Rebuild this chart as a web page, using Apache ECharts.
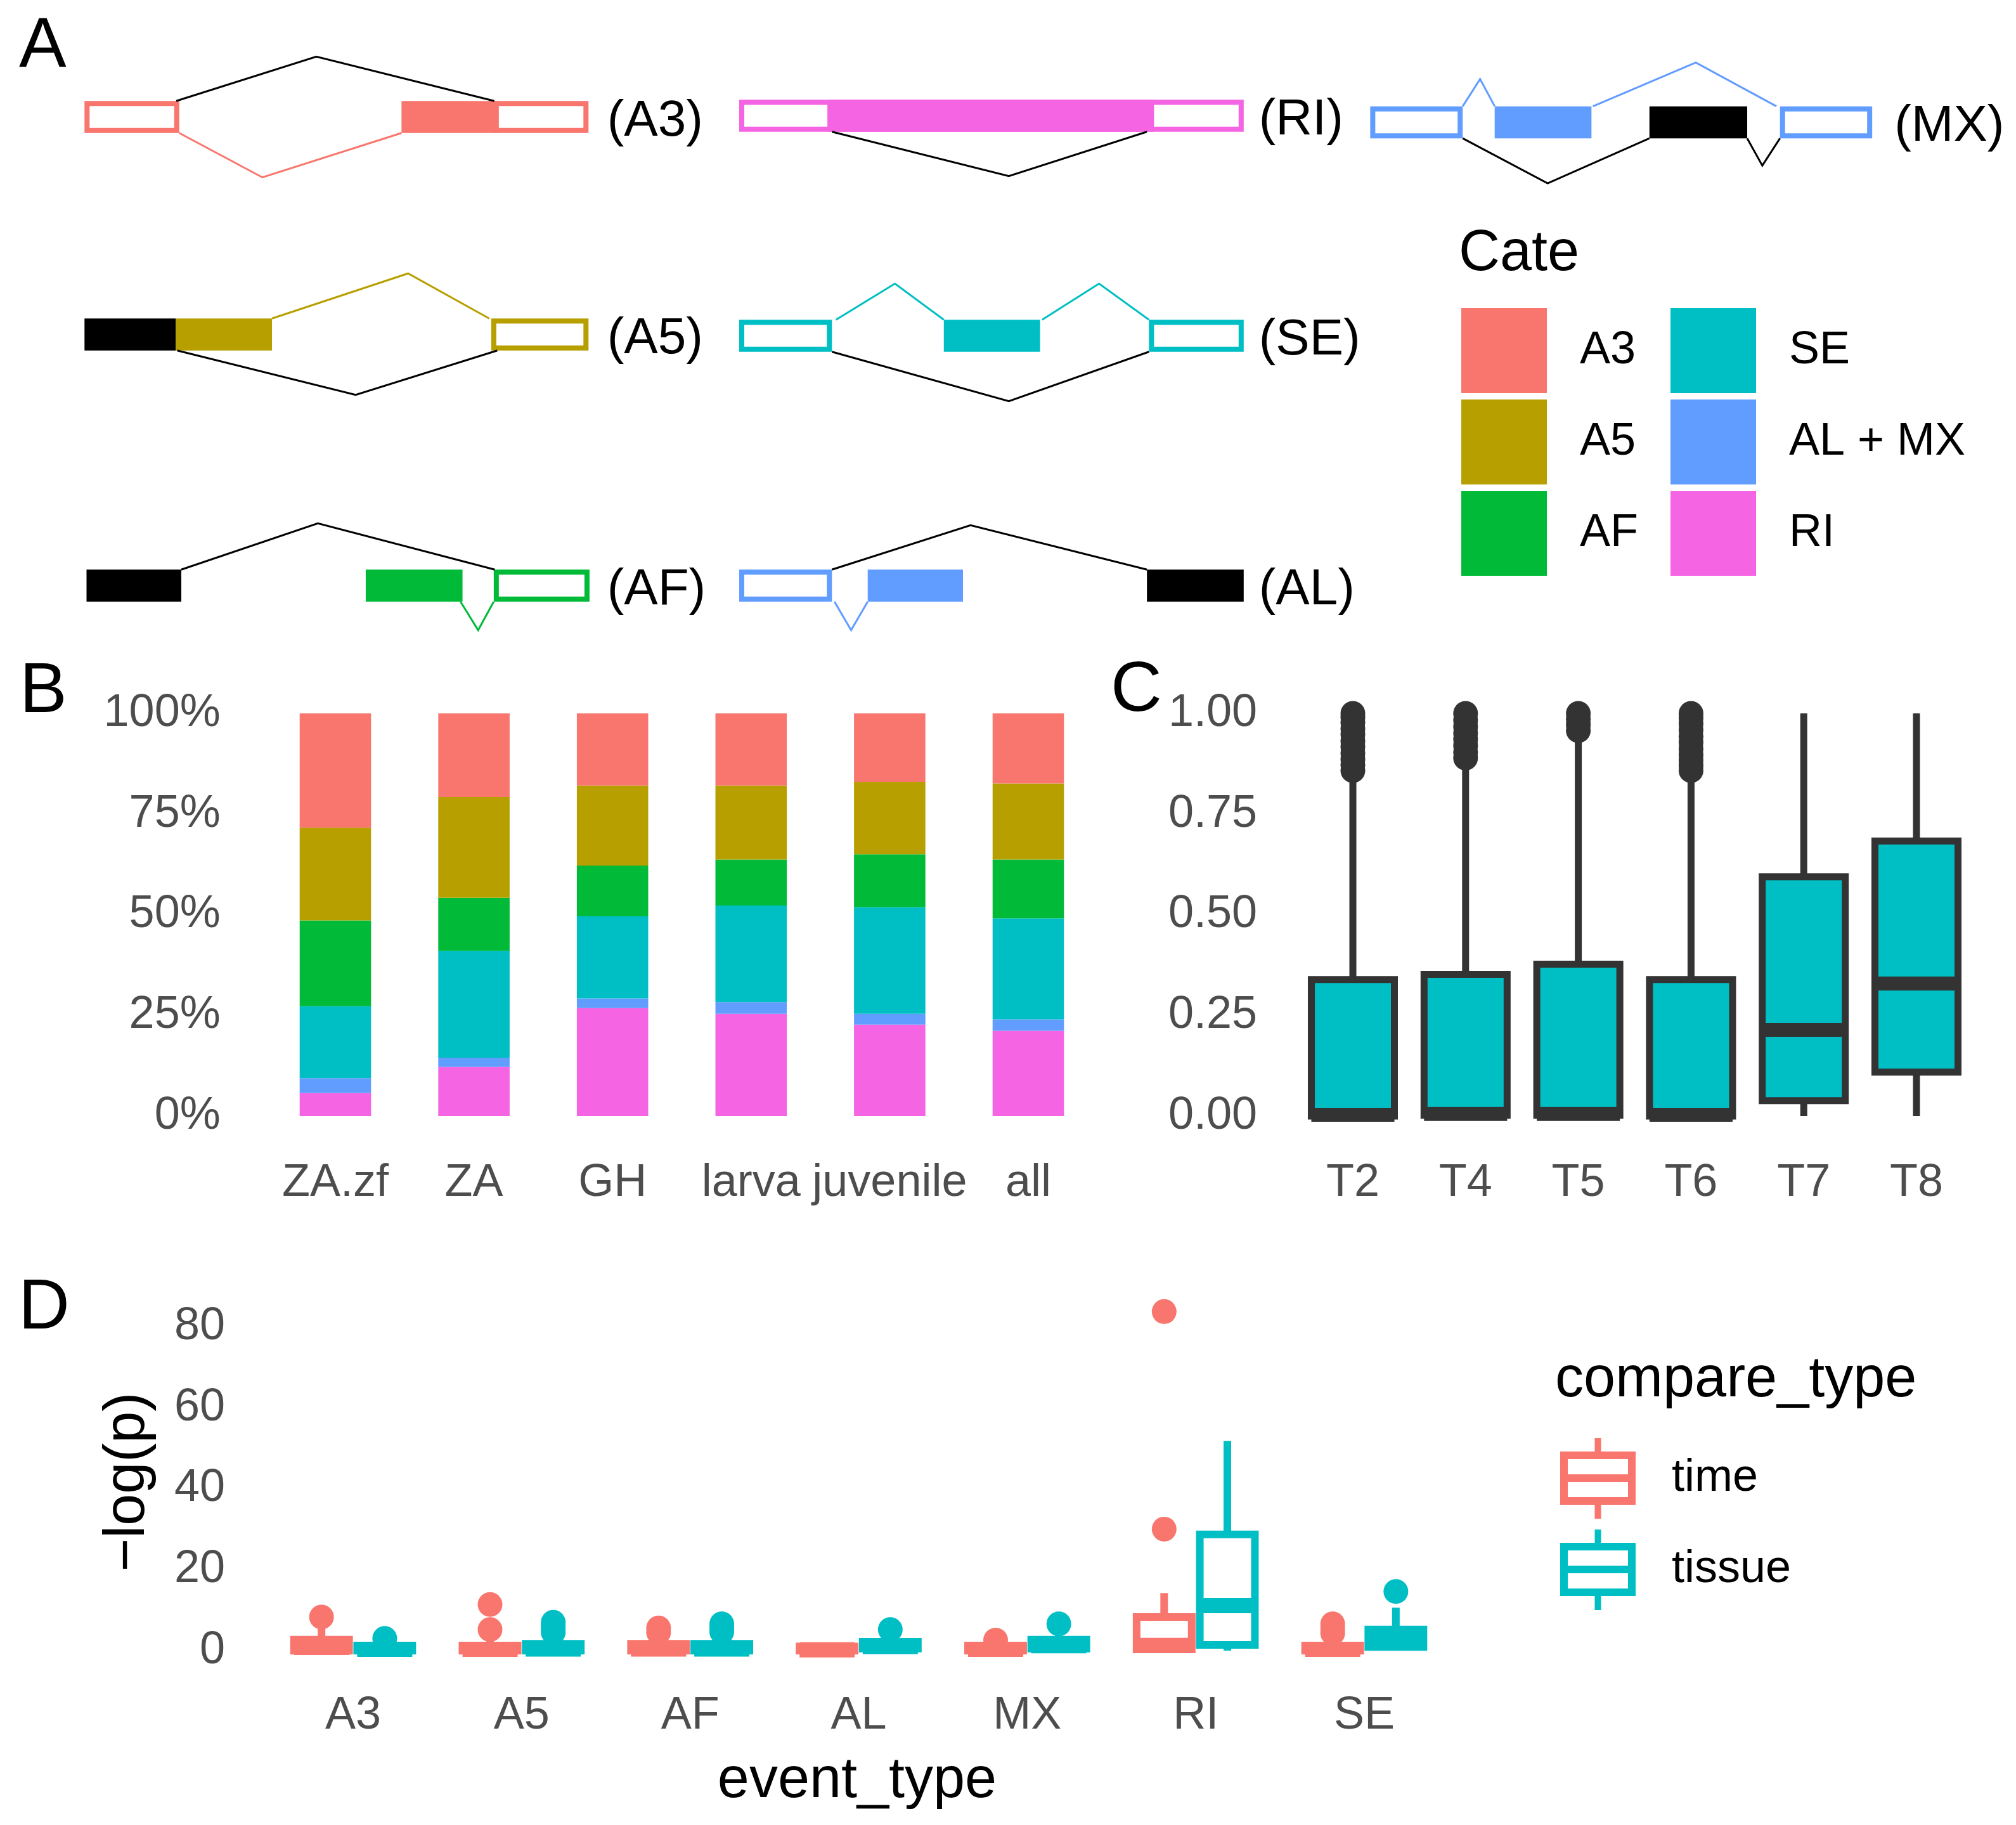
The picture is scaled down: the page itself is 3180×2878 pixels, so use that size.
<!DOCTYPE html>
<html>
<head>
<meta charset="utf-8">
<script src="https://cdn.jsdelivr.net/npm/echarts@6/dist/echarts.min.js"></script>
<style>html,body{margin:0;padding:0;background:#fff}#c{width:3180px;height:2878px}</style>
</head>
<body>
<div id="c"></div>
<script>
const FONT = '"Liberation Sans", Arial, Helvetica, sans-serif';
const GREY = '#4D4D4D';

// ---------- Panel B data ----------
const cateNames  = ['A3', 'A5', 'AF', 'SE', 'AL + MX', 'RI'];
const cateColors = ['#F8766D', '#B79F00', '#00BA38', '#00BFC4', '#619CFF', '#F564E3'];
const stageCats  = ['ZA.zf', 'ZA', 'GH', 'larva', 'juvenile', 'all'];
const propRI   = [0.057, 0.122, 0.268, 0.254, 0.227, 0.212];
const propALMX = [0.037, 0.023, 0.024, 0.029, 0.027, 0.028];
const propSE   = [0.179, 0.265, 0.204, 0.240, 0.265, 0.251];
const propAF   = [0.213, 0.132, 0.126, 0.114, 0.131, 0.146];
const propA5   = [0.230, 0.250, 0.199, 0.184, 0.180, 0.189];
const propA3   = [0.284, 0.208, 0.179, 0.179, 0.170, 0.174];
const pctTicks = [0, 0.25, 0.5, 0.75, 1];

// ---------- Panel C data ----------
const tCats = ['T2', 'T4', 'T5', 'T6', 'T7', 'T8'];
// [lower whisker, Q1, median, Q3, upper whisker]
const tBox = [
  [0, 0,     0.003, 0.339, 0.84],
  [0, 0.002, 0.005, 0.352, 0.87],
  [0, 0.002, 0.005, 0.377, 0.94],
  [0, 0,     0.003, 0.339, 0.84],
  [0, 0.038, 0.214, 0.594, 1.00],
  [0, 0.109, 0.329, 0.683, 1.00]
];
const tOutT2 = [0.858, 0.872, 0.886, 0.901, 0.917, 0.931, 0.948, 0.962, 0.977, 0.99, 1.0];
const tOutT4 = [0.889, 0.903, 0.92, 0.936, 0.951, 0.967, 0.983, 1.0];
const tOutT5 = [0.957, 0.972, 0.986, 1.0];
const tOutT6 = [0.858, 0.87, 0.884, 0.897, 0.912, 0.928, 0.943, 0.959, 0.974, 0.988, 1.0];
const tOutT7 = [];
const tOutT8 = [];

// ---------- Panel D data ----------
const eventCats = ['A3', 'A5', 'AF', 'AL', 'MX', 'RI', 'SE'];
const compareTypes = ['time', 'tissue'];
const compareColors = ['#F8766D', '#00BFC4'];
// [lower whisker, Q1, median, Q3, upper whisker]
const timeBox = [
  [0, 0,   0.8, 2.7,  6.5],
  [0, 0,   0.3, 1.25, 3.0],
  [0, 0,   0.4, 1.7,  3.5],
  [0, 0,   0.2, 1.0,  1.5],
  [0, 0,   0.3, 1.25, 2.0],
  [0, 0.3, 1.3, 8.3,  14.2],
  [0, 0,   0.3, 1.25, 3.0]
];
const tissueBox = [
  [0, 0,   0.3,  1.25, 2.0],
  [0, 0,   0.4,  1.7,  3.8],
  [0, 0,   0.4,  1.7,  3.8],
  [0, 0.5, 1.0,  2.2,  4.0],
  [0, 0.5, 1.2,  2.7,  5.0],
  [0, 1.4, 11.1, 28.7, 51.8],
  [0, 0.9, 3.0,  5.2,  10.6]
];
// outliers: [event index, value]
const timeOut = [[0, 8.3], [1, 5.2], [1, 11.4], [2, 4.5], [2, 5.6], [4, 2.6], [5, 30.0], [5, 83.7], [6, 4.3], [6, 5.4], [6, 6.6]];
const tissueOut = [[0, 3.0], [1, 4.5], [1, 5.3], [1, 6.1], [1, 7.0], [2, 4.6], [2, 5.6], [2, 6.6], [3, 5.2], [4, 6.6], [6, 14.6]];
const logTicks = [0, 20, 40, 60, 80];

// ---------- Panel A schematic (local units: 0-100 across a diagram, y in 10px units) ----------
const colStarts = [0, 129.9, 255.1];
// exon: [x1, x2, filled(1)/outline(0), colour index (6 = black)]
// intron: [x1, xPeak, x2, dir(-1 up, 1 down), height, colour index]
const diagrams = [
  {label: '(A3)', col: 0, yc: 18.45, lx: 103.7,
   exons: [[0, 18.8, 0, 0], [81.2, 100, 0, 0], [62.9, 82.1, 1, 0]],
   introns: [[18.2, 46.0, 81.3, -1, 7.0, 6], [18.8, 35.3, 62.9, 1, 7.0, 0]]},
  {label: '(A5)', col: 0, yc: 52.75, lx: 103.7,
   exons: [[0, 18.1, 1, 6], [18.1, 37.2, 1, 1], [80.7, 100, 0, 1]],
   introns: [[37.2, 64.2, 80.3, -1, 7.1, 1], [18.4, 53.8, 81.9, 1, 7.0, 6]]},
  {label: '(AF)', col: 0, yc: 92.35, lx: 103.7,
   exons: [[0.4, 19.2, 1, 6], [55.8, 75.0, 1, 2], [81.2, 100.2, 0, 2]],
   introns: [[19.2, 46.3, 81.4, -1, 7.3, 6], [74.6, 78.1, 81.2, 1, 4.5, 2]]},
  {label: '(RI)', col: 1, yc: 18.25, lx: 103.1,
   exons: [[0, 100.1, 0, 5], [17.5, 82.3, 1, 5]],
   introns: [[18.4, 53.5, 80.9, 1, 7.0, 6]]},
  {label: '(SE)', col: 1, yc: 52.95, lx: 103.1,
   exons: [[0, 18.4, 0, 3], [40.6, 59.7, 1, 3], [81.3, 100.1, 0, 3]],
   introns: [[19.2, 30.9, 40.6, -1, 5.7, 3], [60.1, 71.4, 81.3, -1, 5.7, 3], [18.4, 53.5, 81.3, 1, 7.8, 6]]},
  {label: '(AL)', col: 1, yc: 92.35, lx: 103.1,
   exons: [[0, 18.4, 0, 4], [25.5, 44.4, 1, 4], [80.9, 100.1, 1, 6]],
   introns: [[18.4, 45.9, 80.9, -1, 7.0, 6], [18.9, 22.2, 25.5, 1, 4.5, 4]]},
  {label: '(MX)', col: 2, yc: 19.29, lx: 104.0,
   exons: [[0, 18.35, 0, 4], [24.7, 43.9, 1, 4], [55.4, 74.8, 1, 6], [81.3, 99.6, 0, 4]],
   introns: [[18.35, 21.8, 24.7, -1, 4.3, 4], [44.2, 64.6, 80.6, -1, 6.9, 4], [18.35, 35.2, 55.4, 1, 7.1, 6], [74.8, 77.8, 81.3, 1, 4.3, 6]]}
];
const exonHalf = 2.525;
const schemeColours = cateColors.concat(['#000000']);

const exonData = [], intronData = [], aLabelData = [], aLabelText = [];
diagrams.forEach(d => {
  const x0 = colStarts[d.col];
  d.exons.forEach(e => exonData.push([x0 + e[0], d.yc, x0 + e[1], e[2], e[3]]));
  d.introns.forEach(t => intronData.push([x0 + t[0], d.yc, x0 + t[1], x0 + t[2], t[3], t[4], t[5]]));
  aLabelData.push([x0 + d.lx, d.yc + 0.7]);
  aLabelText.push(d.label);
});

// ---------- helpers ----------
function boxRender(offsetFrac, widthFrac, fill, stroke, lw, medLw) {
  return function (params, api) {
    const ci = api.value(0);
    const c0 = api.coord([ci, 0]);
    const band = api.coord([1, 0])[0] - api.coord([0, 0])[0];
    const cx = c0[0] + offsetFrac * band;
    const w = widthFrac * band;
    const y = k => api.coord([ci, api.value(k)])[1];
    const yMin = y(1), yQ1 = y(2), yMed = y(3), yQ3 = y(4), yMax = y(5);
    const ls = {stroke: stroke, lineWidth: lw, lineCap: 'butt'};
    return {type: 'group', children: [
      {type: 'line', shape: {x1: cx, y1: yQ3, x2: cx, y2: yMax}, style: ls},
      {type: 'line', shape: {x1: cx, y1: yQ1, x2: cx, y2: yMin}, style: ls},
      {type: 'rect', shape: {x: cx - w / 2, y: yQ3, width: w, height: yQ1 - yQ3}, style: {fill: fill, stroke: stroke, lineWidth: lw}},
      {type: 'line', shape: {x1: cx - w / 2, y1: yMed, x2: cx + w / 2, y2: yMed}, style: {stroke: stroke, lineWidth: medLw, lineCap: 'butt'}}
    ]};
  };
}
function dotRender(offsetFrac, r, colour) {
  return function (params, api) {
    const ci = api.value(0);
    const band = api.coord([1, 0])[0] - api.coord([0, 0])[0];
    const p = api.coord([ci, api.value(1)]);
    return {type: 'circle', shape: {cx: p[0] + offsetFrac * band, cy: p[1], r: r}, style: {fill: colour}};
  };
}

const tOutAll = [tOutT2, tOutT4, tOutT5, tOutT6, tOutT7, tOutT8];
const tOutData = [];
tOutAll.forEach((arr, i) => arr.forEach(v => tOutData.push([i, v])));

const axisHidden = {axisLine: {show: false}, axisTick: {show: false}, splitLine: {show: false}};
const tickLabel = (margin, fmt, pad) => ({show: true, interval: 0, hideOverlap: false, fontSize: 72, color: GREY,
  fontFamily: FONT, margin: margin, formatter: fmt, padding: pad || 0});

const boxIcon = 'path://M54.5,0H64.5V21H119V105H64.5V127H54.5V105H0V21H54.5Z M12,33V57H107V33Z M12,69V93H107V69Z';

const bSeries = [
  ['RI', propRI], ['AL + MX', propALMX], ['SE', propSE], ['AF', propAF], ['A5', propA5], ['A3', propA3]
].map(([name, vals]) => ({
  type: 'bar', name: name, stack: 'cate', xAxisIndex: 1, yAxisIndex: 1,
  barWidth: '51.5%', data: vals,
  itemStyle: {color: cateColors[cateNames.indexOf(name)]},
  emphasis: {disabled: true}
}));

const option = {
  animation: false,
  backgroundColor: '#ffffff',
  textStyle: {fontFamily: FONT},
  grid: [
    {left: 133.3, top: 0, width: 2822.25, height: 1000, outerBoundsMode: 'none'},
    {left: 419.7, top: 1125, width: 1311.6, height: 635, outerBoundsMode: 'none'},
    {left: 2045.1, top: 1125, width: 1066.8, height: 635, outerBoundsMode: 'none'},
    {left: 424.1, top: 2092, width: 1860.8, height: 511, outerBoundsMode: 'none'}
  ],
  xAxis: [
    {type: 'value', gridIndex: 0, min: 0, max: 355, show: false},
    Object.assign({type: 'category', gridIndex: 1, data: stageCats, axisLabel: tickLabel(70)}, axisHidden),
    Object.assign({type: 'category', gridIndex: 2, data: tCats, axisLabel: tickLabel(70)}, axisHidden),
    Object.assign({type: 'category', gridIndex: 3, data: eventCats, axisLabel: tickLabel(67)}, axisHidden)
  ],
  yAxis: [
    {type: 'value', gridIndex: 0, min: 0, max: 100, inverse: true, show: false},
    Object.assign({type: 'value', gridIndex: 1, min: pctTicks[0], max: pctTicks[4], interval: 0.25,
      axisLabel: tickLabel(72, v => Math.round(v * 100) + '%', [8, 0, 0, 0])}, axisHidden),
    Object.assign({type: 'value', gridIndex: 2, min: 0, max: 1, interval: 0.25,
      axisLabel: tickLabel(62, v => v.toFixed(2), [8, 0, 0, 0])}, axisHidden),
    Object.assign({type: 'value', gridIndex: 3, min: logTicks[0], max: logTicks[4], interval: 20,
      axisLabel: tickLabel(69, null, [8, 0, 0, 0])}, axisHidden)
  ],
  legend: [
    {left: 2305, top: 486, orient: 'vertical', padding: 0, itemGap: 10, itemWidth: 135, itemHeight: 134,
     selectedMode: false, icon: 'rect', data: ['A3', 'A5', 'AF'],
     textStyle: {fontSize: 72, color: '#000', fontFamily: FONT, padding: [8, 0, 0, 47]}},
    {left: 2635, top: 486, orient: 'vertical', padding: 0, itemGap: 10, itemWidth: 135, itemHeight: 134,
     selectedMode: false, icon: 'rect', data: ['SE', 'AL + MX', 'RI'],
     textStyle: {fontSize: 72, color: '#000', fontFamily: FONT, padding: [8, 0, 0, 47]}},
    {left: 2461, top: 2268, orient: 'vertical', padding: 0, itemGap: 17, itemWidth: 119, itemHeight: 127,
     selectedMode: false,
     data: compareTypes.map((n, i) => ({name: n, icon: boxIcon, itemStyle: {color: compareColors[i], borderWidth: 0}})),
     textStyle: {fontSize: 72, color: '#000', fontFamily: FONT, padding: [12, 0, 0, 52]}}
  ],
  graphic: [
    {type: 'text', x: 30, y: 74, style: {text: 'A', fontSize: 112, fontFamily: FONT, fill: '#000', align: 'left', verticalAlign: 'middle'}},
    {type: 'text', x: 31, y: 1092, style: {text: 'B', fontSize: 112, fontFamily: FONT, fill: '#000', align: 'left', verticalAlign: 'middle'}},
    {type: 'text', x: 1752, y: 1090, style: {text: 'C', fontSize: 112, fontFamily: FONT, fill: '#000', align: 'left', verticalAlign: 'middle'}},
    {type: 'text', x: 29, y: 2064, style: {text: 'D', fontSize: 112, fontFamily: FONT, fill: '#000', align: 'left', verticalAlign: 'middle'}},
    {type: 'text', x: 2301, y: 401, style: {text: 'Cate', fontSize: 90, fontFamily: FONT, fill: '#000', align: 'left', verticalAlign: 'middle'}},
    {type: 'text', x: 2453, y: 2177, style: {text: 'compare_type', fontSize: 90, fontFamily: FONT, fill: '#000', align: 'left', verticalAlign: 'middle'}},
    {type: 'text', x: 1352, y: 2809, style: {text: 'event_type', fontSize: 90, fontFamily: FONT, fill: '#000', align: 'center', verticalAlign: 'middle'}},
    {type: 'text', x: 202, y: 2337, rotation: Math.PI / 2, style: {text: '\u2212log(p)', fontSize: 90, fontFamily: FONT, fill: '#000', align: 'center', verticalAlign: 'middle'}}
  ],
  series: [
    // Panel A
    {type: 'custom', name: 'exons', xAxisIndex: 0, yAxisIndex: 0, data: exonData, silent: true,
     renderItem: (p, api) => {
       const a = api.coord([api.value(0), api.value(1) - exonHalf]);
       const b = api.coord([api.value(2), api.value(1) + exonHalf]);
       const col = schemeColours[api.value(4)];
       if (api.value(3) === 1) {
         return {type: 'rect', shape: {x: a[0], y: a[1], width: b[0] - a[0], height: b[1] - a[1]}, style: {fill: col}};
       }
       const lw = 8;
       return {type: 'rect', shape: {x: a[0] + lw / 2, y: a[1] + lw / 2, width: b[0] - a[0] - lw, height: b[1] - a[1] - lw},
               style: {fill: 'none', stroke: col, lineWidth: lw}};
     }},
    {type: 'custom', name: 'introns', xAxisIndex: 0, yAxisIndex: 0, data: intronData, silent: true,
     renderItem: (p, api) => {
       const yc = api.value(1), dir = api.value(4), h = api.value(5);
       const p1 = api.coord([api.value(0), yc + dir * exonHalf]);
       const p2 = api.coord([api.value(2), yc + dir * (exonHalf + h)]);
       const p3 = api.coord([api.value(3), yc + dir * exonHalf]);
       return {type: 'polyline', shape: {points: [p1, p2, p3]}, style: {stroke: schemeColours[api.value(6)], lineWidth: 3, fill: 'none'}};
     }},
    {type: 'custom', name: 'labelsA', xAxisIndex: 0, yAxisIndex: 0, data: aLabelData, silent: true,
     renderItem: (p, api) => {
       const pt = api.coord([api.value(0), api.value(1)]);
       return {type: 'text', x: pt[0], y: pt[1], style: {text: aLabelText[p.dataIndex], fontSize: 80, fontFamily: FONT, fill: '#000', align: 'left', verticalAlign: 'middle'}};
     }},
    // Panel B
    ...bSeries,
    // Panel C
    {type: 'custom', name: 'psi', xAxisIndex: 2, yAxisIndex: 2, silent: true,
     data: tBox.map((b, i) => [i].concat(b)),
     renderItem: boxRender(0, 0.737, '#00BFC4', '#333333', 11, 22)},
    {type: 'custom', name: 'psiOut', xAxisIndex: 2, yAxisIndex: 2, silent: true,
     data: tOutData, renderItem: dotRender(0, 19.5, '#333333')},
    // Panel D
    {type: 'custom', name: 'time', xAxisIndex: 3, yAxisIndex: 3, silent: true,
     itemStyle: {color: compareColors[0]},
     data: timeBox.map((b, i) => [i].concat(b)),
     renderItem: boxRender(-0.1875, 0.327, '#ffffff', compareColors[0], 12, 24)},
    {type: 'custom', name: 'time', xAxisIndex: 3, yAxisIndex: 3, silent: true,
     itemStyle: {color: compareColors[0]},
     data: timeOut, renderItem: dotRender(-0.1875, 19.5, compareColors[0])},
    {type: 'custom', name: 'tissue', xAxisIndex: 3, yAxisIndex: 3, silent: true,
     itemStyle: {color: compareColors[1]},
     data: tissueBox.map((b, i) => [i].concat(b)),
     renderItem: boxRender(0.1875, 0.327, '#ffffff', compareColors[1], 12, 24)},
    {type: 'custom', name: 'tissue', xAxisIndex: 3, yAxisIndex: 3, silent: true,
     itemStyle: {color: compareColors[1]},
     data: tissueOut, renderItem: dotRender(0.1875, 19.5, compareColors[1])}
  ]
};

const chart = echarts.init(document.getElementById('c'), null, {renderer: 'canvas'});
chart.setOption(option);
</script>
</body>
</html>
